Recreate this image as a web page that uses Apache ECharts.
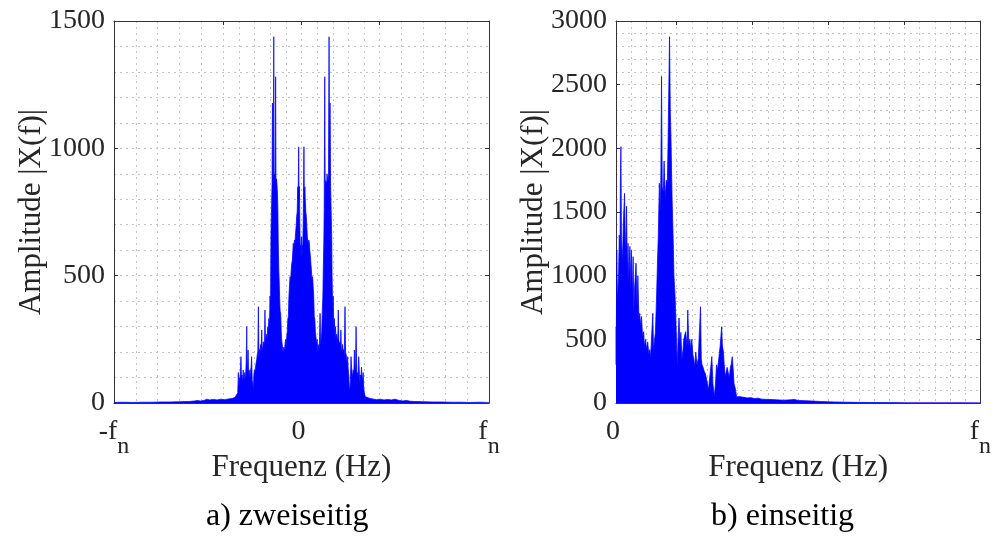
<!DOCTYPE html>
<html><head><meta charset="utf-8">
<script src="https://cdn.jsdelivr.net/npm/echarts@6/dist/echarts.min.js"></script>
<style>html,body{margin:0;padding:0;background:#fff}#c{width:994px;height:536px}</style>
</head><body><div id="c"></div>
<script>
// ---- Panel a) two-sided spectrum: frequency in units of f_n (-1 .. 1)
const freqA = [
-1.000,-0.950,-0.900,-0.850,-0.800,-0.750,-0.700,-0.650,-0.600,-0.570,-0.555,-0.540,-0.520,-0.505,-0.490,-0.470,-0.450,-0.430,-0.410,-0.390,-0.370,-0.355,-0.345,-0.340,
-0.337,-0.334,-0.331,-0.328,-0.325,-0.323,-0.320,-0.317,-0.314,-0.311,-0.308,-0.305,-0.302,-0.299,-0.295,-0.292,-0.290,-0.288,-0.285,-0.282,-0.279,-0.276,-0.273,-0.269,-0.266,-0.263,-0.259,-0.257,-0.254,-0.251,-0.248,-0.245,-0.242,-0.239,-0.236,-0.233,-0.230,-0.227,-0.224,-0.221,-0.218,-0.215,-0.212,-0.209,-0.206,-0.203,-0.200,-0.197,-0.195,-0.192,-0.189,-0.186,-0.183,-0.180,-0.177,-0.174,-0.171,-0.168,-0.165,-0.163,-0.160,-0.157,-0.155,-0.152,-0.150,-0.148,-0.146,-0.143,-0.141,-0.138,-0.136,-0.133,-0.131,-0.128,-0.126,-0.124,-0.121,-0.119,-0.117,-0.114,-0.111,-0.108,-0.106,-0.103,-0.100,-0.097,-0.094,-0.091,-0.088,-0.085,-0.082,-0.079,-0.076,-0.073,-0.070,-0.067,-0.064,-0.061,-0.058,-0.055,-0.052,-0.049,-0.046,-0.044,-0.041,-0.038,-0.035,-0.033,-0.030,-0.028,-0.026,-0.023,-0.020,-0.018,-0.015,-0.013,-0.011,-0.009,-0.006,-0.004,-0.002,
0.000,0.002,0.004,0.006,0.009,0.011,0.013,0.015,0.018,0.020,0.023,0.026,0.028,0.031,0.033,0.036,0.039,0.042,0.044,0.047,0.050,0.053,0.056,0.059,0.062,0.065,0.068,0.071,0.074,0.077,0.080,0.083,0.086,0.089,0.092,0.095,0.099,0.102,0.105,0.108,0.111,0.114,0.116,0.119,0.121,0.124,0.126,0.129,0.131,0.134,0.136,0.139,0.141,0.144,0.147,0.150,0.152,0.155,0.158,0.161,0.163,0.166,0.169,0.172,0.175,0.178,0.181,0.184,0.187,0.190,0.193,0.196,0.199,0.202,0.205,0.208,0.210,0.213,0.216,0.219,0.222,0.225,0.228,0.232,0.235,0.238,0.241,0.244,0.246,0.249,0.252,0.255,0.258,0.261,0.264,0.267,0.270,0.273,0.276,0.279,0.282,0.285,0.288,0.291,0.294,0.297,0.300,0.303,0.305,0.308,0.311,0.314,0.317,0.320,0.323,0.326,0.329,0.332,0.335,
0.340,0.350,0.365,0.380,0.400,0.420,0.440,0.460,0.480,0.500,0.520,0.540,0.560,0.580,0.600,0.650,0.700,0.750,0.800,0.850,0.900,0.950,1.000
];
const ampA = [
2,3,2,3,3,4,4,5,6,8,10,8,10,15,12,14,12,15,13,16,18,22,25,40,
120,60,100,90,140,182,100,110,80,130,90,100,120,90,160,300,120,140,208,110,130,100,120,140,182,90,70,51,110,130,120,143,150,170,190,200,378,180,210,200,230,210,287,200,220,240,230,250,365,230,260,270,250,300,280,332,300,420,380,653,760,860,1178,880,900,1438,870,900,860,1281,860,880,862,820,760,628,520,480,420,360,352,280,250,230,208,200,220,200,230,250,220,260,280,330,340,420,460,496,480,520,548,560,600,627,600,640,620,653,660,700,732,750,849,800,1006,800,850,700,600,620,560,
653,560,620,600,700,850,1006,800,849,800,750,732,700,653,660,620,640,627,600,580,548,520,480,496,460,420,340,330,280,260,230,250,220,200,230,210,352,230,250,280,360,420,520,628,760,1281,880,862,870,860,900,880,870,900,1438,880,1178,860,760,653,500,380,420,300,332,280,300,250,270,260,230,365,250,230,240,220,287,200,210,230,200,210,180,378,200,190,170,150,182,130,110,60,51,90,182,140,120,100,130,110,208,140,120,300,160,90,120,100,182,130,80,110,100,140,90,100,120,60,40,
25,22,18,16,13,15,12,14,12,15,10,8,10,7,6,5,4,4,3,3,2,3,2
];

// ---- Panel b) one-sided spectrum: frequency in units of f_n (0 .. 1)
const freqB = [
0.000,0.0005,0.002,0.004,0.007,0.009,0.011,0.012,0.0135,0.015,0.018,0.020,0.0235,0.026,0.029,0.031,0.033,0.035,0.038,0.041,0.042,0.045,0.047,0.049,0.051,0.055,0.058,0.060,0.063,0.065,0.068,0.070,0.073,0.076,0.078,0.081,0.084,0.087,0.090,0.093,0.095,0.097,0.101,0.103,0.105,0.108,0.111,0.114,0.116,0.119,0.121,0.123,0.125,0.127,0.130,0.132,0.135,0.138,0.141,0.143,0.147,0.149,0.151,0.154,0.157,0.159,0.162,0.164,0.166,0.168,0.171,0.173,0.176,0.178,0.181,0.184,0.186,0.191,0.195,0.197,0.200,0.203,0.205,0.208,0.211,0.214,0.216,0.219,0.222,0.226,0.228,0.232,0.234,0.236,0.239,0.242,0.245,0.249,0.251,0.254,0.257,0.259,0.263,0.266,0.270,0.273,0.276,0.278,0.281,0.284,0.286,0.290,0.292,0.295,0.297,0.300,0.303,0.305,0.308,0.311,0.314,0.316,0.319,0.322,0.324,0.327,0.331,
0.335,0.340,0.350,0.360,0.370,0.380,0.390,0.400,0.420,0.440,0.460,0.480,0.490,0.500,0.520,0.540,0.560,0.580,0.600,0.650,0.700,0.750,0.800,0.850,0.900,0.950,1.000
];
const ampB = [
600,300,1202,800,1000,1319,1100,1712,2013,1300,1100,1400,1647,1150,1545,1000,1254,950,1230,900,1200,850,1149,700,900,1097,750,1000,650,704,600,680,520,560,442,500,420,480,380,420,350,480,704,400,480,550,800,1123,1300,1725,1500,1750,2563,1700,1650,1900,1600,1750,1725,2065,2877,2300,2065,1600,1280,1000,850,678,500,285,550,667,450,555,340,420,500,560,450,730,450,500,420,500,380,338,280,400,300,350,500,756,350,300,280,250,233,180,150,102,200,250,364,150,50,150,300,250,320,400,450,600,450,400,300,207,250,280,240,200,280,300,364,250,150,120,50,
60,50,45,40,42,35,38,30,28,25,22,25,28,20,18,15,12,10,8,5,4,3,2,2,2,2,2
];

// ---- Axis ticks / grid positions (units of f_n) and tick labels
const yTicksA = [0, 500, 1000, 1500];
const yTicksB = [0, 500, 1000, 1500, 2000, 2500, 3000];
const xLabelValsA = [-1, 0, 1];
const xLabelTextA = ['-f{s|n}', '0{s| }', 'f{s|n}'];
const xLabelValsB = [0, 1];
const xLabelTextB = ['0{s| }', 'f{s|n}'];
const gridXA = [-0.8833,-0.7667,-0.65,-0.5333,-0.4167,-0.3333,-0.25,-0.1667,-0.0833,0,0.0833,0.1667,0.25,0.3333,0.4167,0.5333,0.65,0.7667,0.8833];
const majorXA = [-0.4167, 0, 0.4167];
const gridXB = [0.0417,0.0833,0.125,0.1667,0.2083,0.25,0.2917,0.3333,0.375,0.4167,0.4583,0.5,0.5417,0.5833,0.625,0.6667,0.7083,0.75,0.7917,0.8333,0.875,0.9167,0.9583];
const majorXB = [0.1667, 0.375, 0.5833, 0.7917];

const SERIF = '"Liberation Serif","DejaVu Serif",serif';
const TXT = '#262626';
const gridLine = {show: true, lineStyle: {color: '#c4c4c4', width: 1, type: [2, 4]}};
const boxLine = {show: true, onZero: false, lineStyle: {color: '#333333', width: 1}};

function xLabel(vals, texts) {
  return {
    customValues: vals,
    formatter: function (v) {
      for (let i = 0; i < vals.length; i++) if (Math.abs(vals[i] - v) < 1e-9) return texts[i];
      return '';
    },
    fontFamily: SERIF, fontSize: 28, color: TXT, margin: 2,
    rich: {s: {fontFamily: SERIF, fontSize: 24, color: TXT, padding: [30, 0, 0, 0]}}
  };
}
function xAxes(gi, min, max, grids, majors, vals, texts) {
  return [{
    gridIndex: gi, type: 'value', min: min, max: max, position: 'bottom',
    axisLine: boxLine,
    axisTick: {show: false, customValues: grids},
    splitLine: gridLine,
    axisLabel: xLabel(vals, texts),
    name: 'Frequenz (Hz)', nameLocation: 'middle', nameGap: 49, nameMoveOverlap: false,
    nameTextStyle: {fontFamily: SERIF, fontSize: 31, color: TXT}
  }, {
    gridIndex: gi, type: 'value', min: min, max: max, position: 'top',
    axisLine: boxLine,
    axisTick: {show: true, inside: true, length: 4, customValues: majors, lineStyle: {color: '#333'}},
    axisLabel: {show: false}, splitLine: {show: false}
  }];
}
function yAxes(gi, ticks) {
  const mx = ticks[ticks.length - 1];
  return [{
    gridIndex: gi, type: 'value', min: 0, max: mx, interval: 500, position: 'left',
    axisLine: boxLine,
    axisTick: {show: true, inside: true, length: 4, lineStyle: {color: '#333'}},
    axisLabel: {fontFamily: SERIF, fontSize: 28, color: TXT, margin: 9,
      customValues: ticks, formatter: function (v) { return String(v); }},
    splitLine: gridLine,
    minorTick: {show: false, splitNumber: 5},
    minorSplitLine: gridLine,
    name: 'Amplitude |X(f)|', nameLocation: 'middle', nameGap: 67, nameRotate: 90, nameMoveOverlap: false,
    nameTextStyle: {fontFamily: SERIF, fontSize: 31, color: TXT}
  }, {
    gridIndex: gi, type: 'value', min: 0, max: mx, interval: 500, position: 'right',
    axisLine: boxLine,
    axisTick: {show: true, inside: true, length: 4, lineStyle: {color: '#333'}},
    axisLabel: {show: false}, splitLine: {show: false}
  }];
}

const chart = echarts.init(document.getElementById('c'), null, {renderer: 'canvas'});
const xa = xAxes(0, -1, 1, gridXA, majorXA, xLabelValsA, xLabelTextA);
const xb = xAxes(1, 0, 1, gridXB, majorXB, xLabelValsB, xLabelTextB);
const ya = yAxes(0, yTicksA);
const yb = yAxes(1, yTicksB);
const seriesStyle = {
  type: 'line', showSymbol: false, animation: false, silent: true,
  lineStyle: {color: 'rgba(0,0,255,0.75)', width: 1},
  areaStyle: {color: '#0000ff', opacity: 1},
  z: 1
};
chart.setOption({
  animation: false,
  backgroundColor: '#ffffff',
  grid: [
    {left: 114, top: 21, width: 375, height: 382, containLabel: false},
    {left: 616, top: 21, width: 370, height: 382, containLabel: false}
  ],
  xAxis: [xa[0], xa[1], xb[0], xb[1]],
  yAxis: [ya[0], ya[1], yb[0], yb[1]],
  series: [
    Object.assign({}, seriesStyle, {xAxisIndex: 0, yAxisIndex: 0,
      data: freqA.map((f, i) => [f, ampA[i]])}),
    Object.assign({}, seriesStyle, {xAxisIndex: 2, yAxisIndex: 2,
      data: freqB.map((f, i) => [f, ampB[i]])})
  ],
  graphic: [
    {type: 'text', left: 206, top: 501, style: {text: 'a) zweiseitig', font: '32px "Liberation Serif", serif', fill: '#000'}},
    {type: 'text', left: 711, top: 501, style: {text: 'b) einseitig', font: '32px "Liberation Serif", serif', fill: '#000'}}
  ]
});
</script>
</body></html>
